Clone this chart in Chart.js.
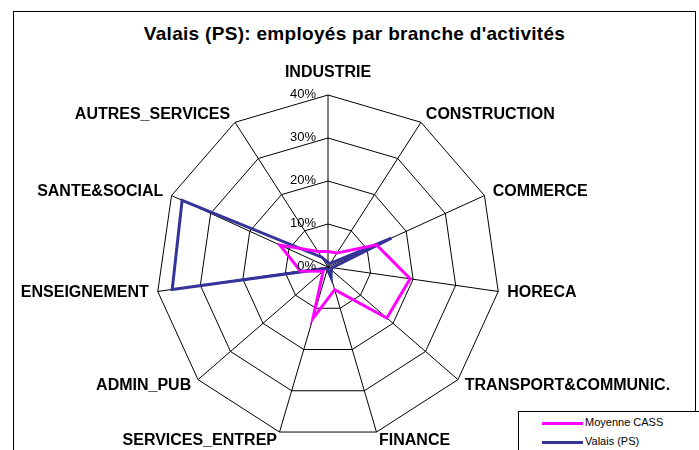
<!DOCTYPE html>
<html>
<head>
<meta charset="utf-8">
<script src="https://cdn.jsdelivr.net/npm/chart.js@4/dist/chart.umd.min.js"></script>
<style>
  body { margin: 0; background: #fff; font-family: "Liberation Sans", Arial, sans-serif; }
  #wrap { position: relative; width: 699px; height: 450px; overflow: hidden; }
  #frame { position: absolute; left: 13px; top: 11px; width: 681px; height: 460px; border: 1px solid #000; }
  #title { position: absolute; left: 13px; width: 683px; top: 23px; text-align: center; font-weight: bold; font-size: 19px; letter-spacing: 0.3px; color: #000; }
  #chart { position: absolute; left: 0; top: 0; }
  #legend { position: absolute; left: 518px; top: 411px; width: 200px; height: 60px; border: 1px solid #000; background: #fff; font-size: 11px; }
  .item { position: absolute; left: 23px; height: 14px; line-height: 14px; }
  .item span { display: inline-block; width: 41px; height: 3px; vertical-align: middle; margin-right: 2px; }
</style>
</head>
<body>
<div id="wrap">
  <div id="frame"></div>
  <div id="title">Valais (PS): employés par branche d'activités</div>
  <canvas id="chart" width="699" height="450"></canvas>
  <div id="legend">
    <div class="item" style="top:3px"><span style="background:#FF00FF"></span>Moyenne CASS</div>
    <div class="item" style="top:22px"><span style="background:#333399"></span>Valais (PS)</div>
  </div>
</div>
<script>
// categories (clockwise from top)
const categories = ['INDUSTRIE', 'CONSTRUCTION', 'COMMERCE', 'HORECA', 'TRANSPORT&COMMUNIC.',
  'FINANCE', 'SERVICES_ENTREP', 'ADMIN_PUB', 'ENSEIGNEMENT', 'SANTE&SOCIAL', 'AUTRES_SERVICES'];

// values in %
const moyenneCass = [3.6, 3.9, 12.4, 19.3, 18.1, 5.5, 12.5, 1.5, 6.5, 12.3, 4.3];
const valaisPS = [1.0, 1.0, 16.2, 1.0, 1.0, 2.6, 0.5, 0.5, 36.6, 37.3, 2.7];

const tickValues = [0, 10, 20, 30, 40];
const tickLabels = ['0%', '10%', '20%', '30%', '40%'];

// draws the category labels and the % ticks like excel does
const excelLabels = {
  id: 'excelLabels',
  afterDraw(chart) {
    const scale = chart.scales.r;
    const ctx = chart.ctx;
    ctx.save();
    ctx.fillStyle = '#000';

    ctx.font = 'bold 16px "Liberation Sans", Arial';
    ctx.textBaseline = 'middle';
    categories.forEach((c, i) => {
      const a = scale.getIndexAngle(i);
      const s = Math.sin(a);
      const top = Math.abs(s) < 0.05;
      const p = scale.getPointPosition(i, scale.drawingArea + (top ? 22 : 9));
      ctx.textAlign = top ? 'center' : (s > 0 ? 'left' : 'right');
      ctx.fillText(c, p.x, p.y);
    });

    ctx.font = '13px "Liberation Sans", Arial';
    ctx.textAlign = 'right';
    tickValues.forEach((v, i) => {
      const p = scale.getPointPositionForValue(0, v);
      ctx.fillText(tickLabels[i], scale.xCenter - 12, p.y - 1);
    });
    ctx.restore();
  }
};

new Chart(document.getElementById('chart'), {
  type: 'radar',
  data: {
    labels: categories,
    datasets: [
      {
        label: 'Moyenne CASS',
        data: moyenneCass,
        borderColor: '#FF00FF',
        borderWidth: 3,
        pointRadius: 0,
        fill: false
      },
      {
        label: 'Valais (PS)',
        data: valaisPS,
        borderColor: '#333399',
        borderWidth: 3,
        pointRadius: 0,
        fill: false
      }
    ]
  },
  options: {
    responsive: false,
    animation: false,
    devicePixelRatio: 1,
    layout: { padding: { left: 156, right: 199, top: 95, bottom: 11 } },
    plugins: {
      legend: { display: false },
      tooltip: { enabled: false }
    },
    scales: {
      r: {
        min: 0,
        max: 40,
        ticks: { display: false, stepSize: 10 },
        pointLabels: { display: false },
        grid: { color: '#000', lineWidth: 1 },
        angleLines: { color: '#000', lineWidth: 1 }
      }
    }
  },
  plugins: [excelLabels]
});
</script>
</body>
</html>
